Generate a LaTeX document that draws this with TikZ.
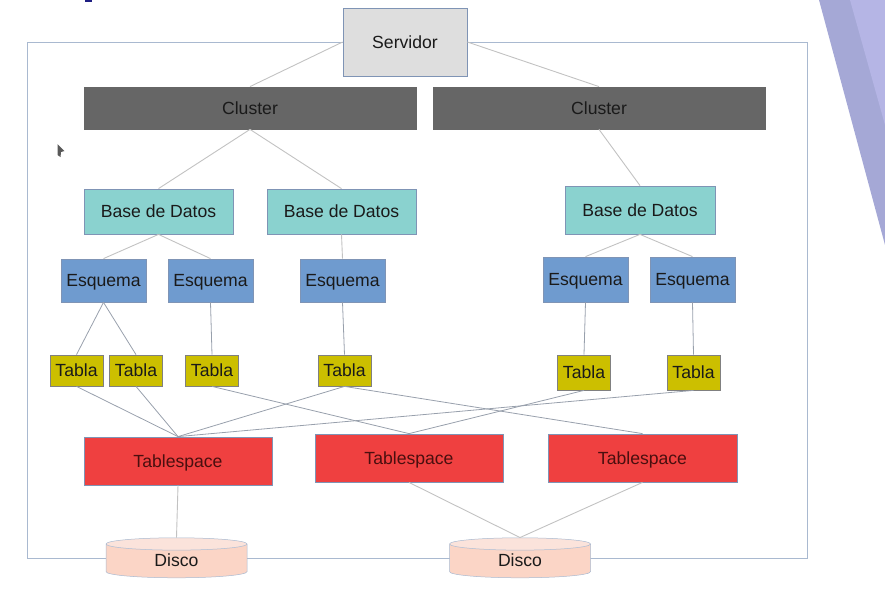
\documentclass[tikz,border=0pt]{standalone}
\usepackage{fontspec}
\setmainfont{Liberation Sans}
\usetikzlibrary{shapes.geometric}
\definecolor{frameC}{HTML}{A9B9D0}
\definecolor{edgeC}{HTML}{7F94B5}
\definecolor{txtC}{HTML}{1A1A1A}
\definecolor{dbC}{HTML}{8AD2CF}
\definecolor{esqC}{HTML}{6F9BCF}
\definecolor{tabC}{HTML}{CCBF00}
\definecolor{tsC}{HTML}{EF4040}
\definecolor{clC}{HTML}{666666}
\definecolor{srvC}{HTML}{DEDEDE}
\definecolor{diskC}{HTML}{FBD5C6}
\definecolor{diskT}{HTML}{FBE3DB}
\definecolor{linkC}{HTML}{C2C2C2}
\definecolor{linkD}{HTML}{98A0AC}
\definecolor{tsT}{HTML}{4A0F0F}
\tikzset{
  x=1pt,y=-1pt,
  box/.style={draw=edgeC,line width=0.8pt,inner sep=0pt,text=txtC,text height=12.6pt,text depth=0pt,font=\fontsize{17.6}{20}\selectfont},
  srvbox/.style={box,fill=srvC,minimum width=124pt,minimum height=68pt},
  clbox/.style={box,fill=clC,draw=clC,minimum width=332pt,minimum height=42pt},
  dbbox/.style={box,fill=dbC,minimum width=149pt,minimum height=45pt},
  esqbox/.style={box,fill=esqC,minimum width=85pt,minimum height=43pt},
  tabbox/.style={box,draw=gray,fill=tabC,minimum width=53pt,minimum height=31pt},
  tsbox/.style={box,fill=tsC,minimum width=188pt,minimum height=48pt,text=tsT},
  diskbox/.style={cylinder,shape border rotate=90,aspect=0.28,draw=frameC,line width=0.5pt,inner sep=0pt,
    cylinder uses custom fill,cylinder body fill=diskC,cylinder end fill=diskT,
    minimum width=141pt,minimum height=40pt,text=txtC,text height=11pt,text depth=0pt,font=\fontsize{17.6}{20}\selectfont},
  link/.style={draw=linkC,line width=0.9pt},
  linkdark/.style={draw=linkD,line width=0.8pt},
}
\begin{document}
\begin{tikzpicture}
\useasboundingbox (0,0) rectangle (885,602);
% slide decoration
\fill[color={rgb,255:red,165;green,168;blue,214}] (819,0) -- (885,245) -- (885,0) -- cycle;
\fill[color={rgb,255:red,181;green,181;blue,229}] (850,0) -- (885,125) -- (885,0) -- cycle;
\fill[color={rgb,255:red,30;green,30;blue,130}] (85,0) rectangle (92,2.5);
% mouse pointer
\fill[color=black!65!white] (57.5,144) -- (64.5,151) -- (61,152) -- (60.5,157) -- (57.5,155) -- cycle;
% outer frame
\draw[frameC,line width=0.9pt] (27.5,42) rectangle (807.5,558);
% nodes
\node[srvbox] (srv) at (405,42) {Servidor};
\node[clbox] (c1) at (250,108) {Cluster};
\node[clbox] (c2) at (599,108) {Cluster};
\node[dbbox] (b1) at (158.5,211.5) {Base de Datos};
\node[dbbox] (b2) at (341.5,211.5) {Base de Datos};
\node[dbbox,minimum height=48pt,minimum width=150pt] (b3) at (640,210) {Base de Datos};
\node[esqbox] (e1) at (103.5,280.5) {Esquema};
\node[esqbox] (e2) at (210.5,280.5) {Esquema};
\node[esqbox] (e3) at (342.5,280.5) {Esquema};
\node[esqbox,minimum height=45pt] (e4) at (585.5,279.5) {Esquema};
\node[esqbox,minimum height=45pt] (e5) at (692.5,279.5) {Esquema};
\node[tabbox] (t1) at (76.5,370.5) {Tabla};
\node[tabbox] (t2) at (136,370.5) {Tabla};
\node[tabbox] (t3) at (212,370.5) {Tabla};
\node[tabbox] (t4) at (344.5,370.5) {Tabla};
\node[tabbox,minimum height=35pt] (t5) at (584,372.5) {Tabla};
\node[tabbox,minimum height=35pt] (t6) at (693.5,372.5) {Tabla};
\node[tsbox] (s1) at (178,461) {Tablespace};
\node[tsbox] (s2) at (409,458) {Tablespace};
\node[tsbox,minimum width=189pt] (s3) at (642.5,458) {Tablespace};
\node[diskbox] (d1) at (176.5,561) {Disco};
\node[diskbox] (d2) at (520,561) {Disco};
% connectors
\draw[link] (srv.west) -- (c1.north);
\draw[link] (srv.east) -- (c2.north);
\draw[link] (c1.south) -- (b1.north);
\draw[link] (c1.south) -- (b2.north);
\draw[link] (c2.south) -- (b3.north);
\draw[link] (b1.south) -- (e1.north);
\draw[link] (b1.south) -- (e2.north);
\draw[link] (b2.south) -- (e3.north);
\draw[link] (b3.south) -- (e4.north);
\draw[link] (b3.south) -- (e5.north);
\draw[linkdark] (e1.south) -- (t1.north);
\draw[linkdark] (e1.south) -- (t2.north);
\draw[linkdark] (e2.south) -- (t3.north);
\draw[linkdark] (e3.south) -- (t4.north);
\draw[linkdark] (e4.south) -- (t5.north);
\draw[linkdark] (e5.south) -- (t6.north);
\draw[linkdark] (t1.south) -- (s1.north);
\draw[linkdark] (t2.south) -- (s1.north);
\draw[linkdark] (t4.south) -- (s1.north);
\draw[linkdark] (t6.south) -- (s1.north);
\draw[linkdark] (t3.south) -- (s2.north);
\draw[linkdark] (t5.south) -- (s2.north);
\draw[linkdark] (t4.south) -- (s3.north);
\draw[link] (s1.south) -- (d1.north);
\draw[link] (s2.south) -- (d2.north);
\draw[link] (s3.south) -- (d2.north);
\end{tikzpicture}
\end{document}
